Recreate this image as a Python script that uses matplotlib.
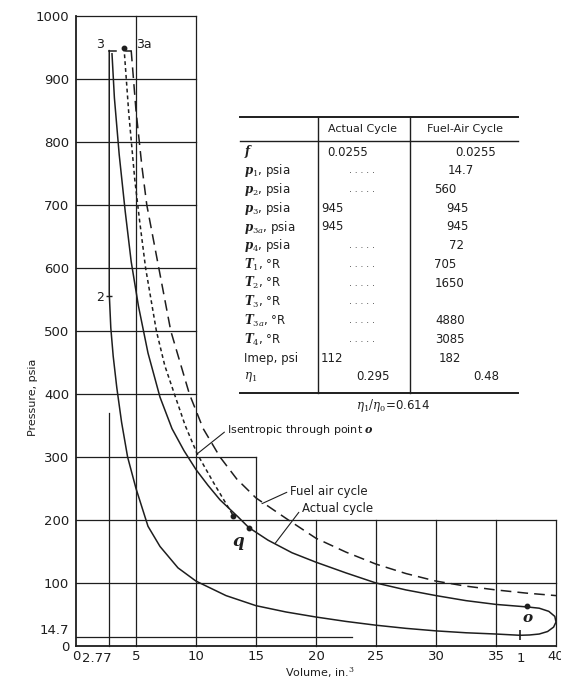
import numpy as np
import matplotlib.pyplot as plt

plt.rcParams['font.family'] = 'DejaVu Sans'
plt.rcParams['mathtext.fontset'] = 'dejavuserif'

# actual cycle, expansion 3 -> o (volume in.^3, pressure psia)
exp_v = [3.0, 3.2, 3.6, 4.1, 4.6, 5.2, 6.0, 7.0, 8.0, 9.0, 10, 11, 12, 13.5, 14.4,
         16, 18, 20, 22.5, 25, 27.5, 30, 32.5, 35, 37.6]
exp_p = [940, 870, 780, 690, 610, 540, 465, 395, 345, 310, 280, 255, 232, 205, 188,
         168, 148, 133, 116, 100, 89, 80, 72, 66, 62]

# exhaust loop o -> 1
loop_v = [37.6, 38.6, 39.4, 39.9, 40.0, 39.8, 39.3, 38.6, 37.8, 37.0]
loop_p = [62, 60, 55, 47, 38, 30, 23, 19, 17.5, 17]

# compression 1 -> 2, then combustion 2 -> 3
comp_v = [37.0, 35, 32.5, 30, 27.5, 25, 22.5, 20, 17.5, 15, 12.5, 10, 8.5, 7, 6,
          5, 4.3, 3.8, 3.4, 3.1, 2.9, 2.77, 2.77]
comp_p = [17, 19, 21, 24, 28, 33, 39, 46, 54, 64, 80, 103, 124, 158, 190,
          250, 300, 355, 410, 460, 505, 560, 945]

# fuel-air cycle expansion 3a -> 4
fa_v = [4.6, 5.0, 5.5, 5.9, 6.9, 7.9, 9.45, 10.6, 12.0, 13.4, 15, 17.7, 20, 22.5,
        25, 27.5, 30, 32.5, 35, 37.5, 40]
fa_p = [945, 850, 760, 700, 600, 500, 400, 345, 300, 265, 235, 200, 171, 149,
        130, 115, 103, 95, 89, 84, 80]

# isentropic through point o
is_v = [4.0, 4.4, 4.9, 5.3, 5.8, 6.7, 7.4, 8.2, 9.1, 10.1, 11.5, 13.1]
is_p = [950, 845, 740, 675, 600, 500, 445, 400, 350, 305, 258, 207]

# constant pressure line 3 - 3a
top_v = [[2.77, 3.35], [4.15, 4.6]]
top_p = 945

# marked points: top of isentropic, start of q, q, o
dot_v = [4.0, 13.1, 14.4, 37.6]
dot_p = [950, 207, 188, 63]
point1 = (37.0, 17)
point2 = (2.77, 555)

# table
row_labels = [r'$\mathbfit{f}$', r'$\mathbfit{p}_1$, psia', r'$\mathbfit{p}_2$, psia',
              r'$\mathbfit{p}_3$, psia', r'$\mathbfit{p}_{3a}$, psia', r'$\mathbfit{p}_4$, psia',
              r'$\mathbfit{T}_1$, °R', r'$\mathbfit{T}_2$, °R', r'$\mathbfit{T}_3$, °R',
              r'$\mathbfit{T}_{3a}$, °R', r'$\mathbfit{T}_4$, °R', 'Imep, psi', r'$\eta_1$']
actual_vals = ['0.0255', '.....', '.....', '945', '945', '.....', '.....', '.....',
               '.....', '.....', '.....', '112', '0.295']
fuel_vals = ['0.0255', '14.7', '560', '945', '945', '72', '705', '1650', '',
             '4880', '3085', '182', '0.48']

ink = '#1e1e1e'

fig = plt.figure(figsize=(5.61, 6.8), dpi=100)
ax = fig.add_axes([76 / 561, 1 - 646 / 680, 480 / 561, 630 / 680])
ax.set_xlim(0, 40)
ax.set_ylim(0, 1000)
for s in ['top', 'right']:
    ax.spines[s].set_visible(False)
for s in ['left', 'bottom']:
    ax.spines[s].set_linewidth(1.3)
    ax.spines[s].set_color(ink)

ax.set_yticks([0, 100, 200, 300, 400, 500, 600, 700, 800, 900, 1000])
ax.set_xticks([0, 5, 10, 15, 20, 25, 30, 35, 40])
ax.tick_params(length=0, labelsize=9.5, colors=ink)
ax.tick_params(axis='y', pad=5)
ax.tick_params(axis='x', pad=3)
ax.text(-0.55, 24, '14.7', ha='right', va='center', fontsize=9.5, color=ink)
ax.text(1.75, -9, '2.77', ha='center', va='top', fontsize=9.5, color=ink)
ax.text(37.1, -9, '1', ha='center', va='top', fontsize=9.5, color=ink)

# stepped grid
gkw = dict(color=ink, lw=0.9, clip_on=False, zorder=1)
for p in [400, 500, 600, 700, 800, 900, 1000]:
    ax.plot([0, 10], [p, p], **gkw)
ax.plot([0, 15], [300, 300], **gkw)
for p in [100, 200]:
    ax.plot([0, 40], [p, p], **gkw)
ax.plot([0, 23], [14.7, 14.7], **gkw)
for v in [5, 10]:
    ax.plot([v, v], [0, 1000], **gkw)
ax.plot([15, 15], [0, 300], **gkw)
for v in [20, 25, 30, 35, 40]:
    ax.plot([v, v], [0, 200], **gkw)
ax.plot([2.77, 2.77], [0, 370], **gkw)

# cycle curves
ckw = dict(color=ink, lw=1.1, clip_on=False, zorder=3)
ax.plot(exp_v, exp_p, **ckw)
ax.plot(loop_v, loop_p, **ckw)
ax.plot(comp_v, comp_p, **ckw)
for seg in top_v:
    ax.plot(seg, [top_p, top_p], **ckw)
ax.plot(fa_v, fa_p, ls=(0, (7, 4)), **ckw)
ax.plot(is_v, is_p, ls=(0, (2.5, 2)), **ckw)
ax.plot(dot_v, dot_p, 'o', ms=3.2, color=ink, zorder=4, clip_on=False)
ax.plot(*point1, marker='|', ms=7, mew=1.2, color=ink, zorder=4)
ax.plot(*point2, marker='_', ms=5, mew=1.0, color=ink, zorder=4)

# point labels
ax.text(2.3, 955, '3', ha='right', va='center', fontsize=9, color=ink)
ax.text(5.0, 955, '3a', ha='left', va='center', fontsize=9, color=ink)
ax.text(2.3, 553, '2', ha='right', va='center', fontsize=9, color=ink)
ax.text(13.5, 180, 'q', ha='center', va='top', fontsize=12, fontweight='bold',
        style='italic', family='DejaVu Serif', color=ink)
ax.text(37.6, 55, 'o', ha='center', va='top', fontsize=11, fontweight='bold',
        style='italic', family='DejaVu Serif', color=ink)

# callouts
akw = dict(arrowstyle='-', lw=0.8, color=ink, shrinkA=0, shrinkB=0, relpos=(0, 0.5))
ax.annotate(r'Isentropic through point $\mathbfit{o}$', xy=(10.1, 305), xytext=(12.6, 343),
            fontsize=8, color=ink, va='center', arrowprops=akw)
ax.annotate('Fuel air cycle', xy=(15.5, 226), xytext=(17.8, 246),
            fontsize=8.5, color=ink, va='center', arrowprops=akw)
ax.annotate('Actual cycle', xy=(16.6, 163), xytext=(18.8, 218),
            fontsize=8.5, color=ink, va='center', arrowprops=akw)

ax.text(-0.09, 0.394, 'Pressure, psia', transform=ax.transAxes, rotation=90,
        ha='center', va='center', fontsize=8, color=ink)
ax.text(0.508, -0.043, 'Volume, in.$^3$', transform=ax.transAxes,
        ha='center', va='center', fontsize=8, color=ink)

# table drawn in pixel coordinates on an overlay
tab = fig.add_axes([0, 0, 1, 1])
tab.set_xlim(0, 561)
tab.set_ylim(680, 0)
tab.axis('off')
tab.patch.set_alpha(0)

tab.plot([240, 518], [117, 117], color=ink, lw=1.4)
tab.plot([240, 518], [141, 141], color=ink, lw=1.0)
tab.plot([240, 518], [393, 393], color=ink, lw=1.4)
tab.plot([318, 318], [117, 393], color=ink, lw=1.0)
tab.plot([410, 410], [117, 393], color=ink, lw=1.0)
tab.text(363, 129, 'Actual Cycle', ha='center', va='center', fontsize=8, color=ink)
tab.text(465, 129, 'Fuel-Air Cycle', ha='center', va='center', fontsize=8, color=ink)

act_x = [348, 362, 362, 332, 332, 362, 362, 362, 362, 362, 362, 332, 373]
fuel_x = [476, 461, 445, 457, 457, 457, 445, 450, 450, 450, 450, 450, 486]
row_y = np.linspace(152, 377, len(row_labels))
for i, lab in enumerate(row_labels):
    y = row_y[i]
    tab.text(244, y, lab, ha='left', va='center', fontsize=8.5, color=ink)
    a = actual_vals[i]
    if a == '.....':
        tab.text(act_x[i], y, '. . . . .', ha='center', va='center', fontsize=6.5, color=ink)
    else:
        tab.text(act_x[i], y, a, ha='center', va='center', fontsize=8.5, color=ink)
    tab.text(fuel_x[i], y, fuel_vals[i], ha='center', va='center', fontsize=8.5, color=ink)

tab.text(393, 406, r'$\eta_1/\eta_0$=0.614', ha='center', va='center', fontsize=8.5, color=ink)

fig.savefig('out.png', dpi=100, facecolor='white')
